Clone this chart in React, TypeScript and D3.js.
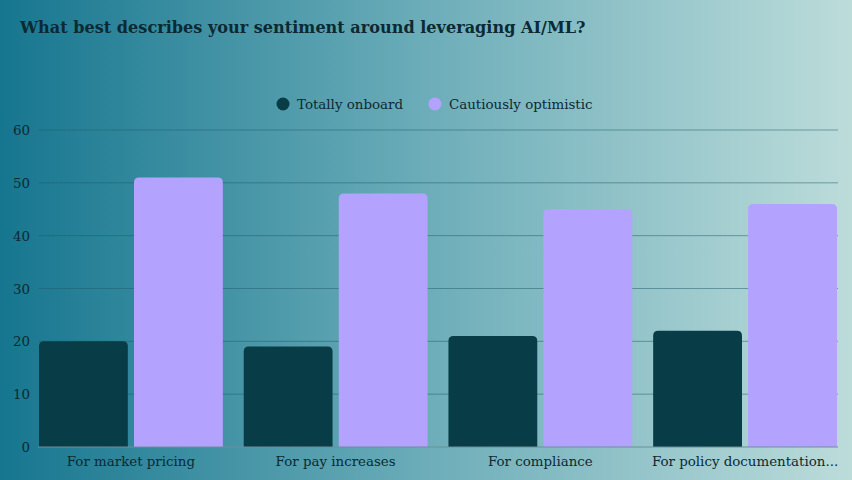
import * as d3 from 'd3'
import {useRef, useEffect} from 'react'

const categories: string[] = ['For market pricing', 'For pay increases', 'For compliance', 'For policy documentation...']
const seriesNames: string[] = ['Totally onboard', 'Cautiously optimistic']
const onboard: number[] = [20, 19, 21, 22]
const optimistic: number[] = [51, 48, 45, 46]
const yTicks: number[] = [0, 10, 20, 30, 40, 50, 60]
const colors: string[] = ['#083d47', '#b4a2ff']

const width = 852
const height = 480
const margin = {left: 39, right: 15, top: 130, bottom: 33}
const font = '"DejaVu Serif", serif'
const textColor = '#0b2a33'

// rect with rounded top corners only
const topRounded = (x: number, y: number, w: number, h: number, r: number): string => {
  const rr = Math.min(r, h, w / 2)
  return `M${x},${y + h}V${y + rr}Q${x},${y} ${x + rr},${y}H${x + w - rr}Q${x + w},${y} ${x + w},${y + rr}V${y + h}Z`
}

export default function App() {
  const svgRef = useRef(null)

  useEffect((): void => {
    const SVG = d3.select(svgRef.current)
    SVG.selectAll('*').remove()

    const defs = SVG.append('defs')
    const grad = defs.append('linearGradient')
      .attr('id', 'bg')
      .attr('x1', '0%').attr('y1', '0%')
      .attr('x2', '100%').attr('y2', '0%')
    grad.append('stop').attr('offset', '0%').attr('stop-color', '#16768f')
    grad.append('stop').attr('offset', '50%').attr('stop-color', '#6cadb9')
    grad.append('stop').attr('offset', '100%').attr('stop-color', '#bcdcda')

    SVG.append('rect')
      .attr('width', width).attr('height', height)
      .attr('fill', 'url(#bg)')

    SVG.append('text')
      .attr('x', 20).attr('y', 33)
      .attr('font-family', font)
      .attr('font-weight', 'bold')
      .attr('font-size', 16.1)
      .attr('fill', textColor)
      .text('What best describes your sentiment around leveraging AI/ML?')

    const xScale = d3.scaleBand<string>()
      .domain(categories)
      .range([margin.left, width - margin.right])
      .paddingInner(0.102)
      .paddingOuter(0)
    const subScale = d3.scaleBand<string>()
      .domain(seriesNames)
      .range([0, xScale.bandwidth()])
      .paddingInner(0.065)
    const yScale = d3.scaleLinear()
      .domain([0, 60])
      .range([height - margin.bottom, margin.top])

    // grid
    SVG.append('g')
      .selectAll('line')
      .data(yTicks.filter(t => t > 0))
      .enter()
      .append('line')
      .attr('x1', margin.left).attr('x2', width - margin.right + 1)
      .attr('y1', d => yScale(d)).attr('y2', d => yScale(d))
      .attr('stroke', '#1f5c6c')
      .attr('stroke-opacity', 0.5)
      .attr('stroke-width', 1)

    // y labels
    SVG.append('g')
      .selectAll('text')
      .data(yTicks)
      .enter()
      .append('text')
      .attr('x', 30)
      .attr('y', d => yScale(d) + 5)
      .attr('text-anchor', 'end')
      .attr('font-family', font)
      .attr('font-size', 13.4)
      .attr('fill', textColor)
      .text(d => d)

    const values = [onboard, optimistic]
    const groups = SVG.append('g')
      .selectAll('g')
      .data(categories)
      .enter()
      .append('g')
      .attr('transform', d => `translate(${xScale(d)},0)`)

    groups.selectAll('path')
      .data((_d, i) => seriesNames.map((s, j) => ({s, v: values[j][i], j})))
      .enter()
      .append('path')
      .attr('d', d => topRounded(subScale(d.s)!, yScale(d.v), subScale.bandwidth(), yScale(0) - yScale(d.v), 5))
      .attr('fill', d => colors[d.j])

    // baseline
    SVG.append('line')
      .attr('x1', margin.left - 1).attr('x2', width - margin.right + 1)
      .attr('y1', yScale(0)).attr('y2', yScale(0))
      .attr('stroke', '#6d8f97')
      .attr('stroke-width', 1.2)

    // x labels
    SVG.append('g')
      .selectAll('text')
      .data(categories)
      .enter()
      .append('text')
      .attr('x', d => xScale(d)! + xScale.bandwidth() / 2)
      .attr('y', 466)
      .attr('text-anchor', 'middle')
      .attr('font-family', font)
      .attr('font-size', 13.4)
      .attr('fill', textColor)
      .text(d => d)

    // legend
    const legendX = [283, 435]
    const legend = SVG.append('g')
      .selectAll('g')
      .data(seriesNames)
      .enter()
      .append('g')
      .attr('transform', (_d, i) => `translate(${legendX[i]},104)`)
    legend.append('circle')
      .attr('r', 6.5)
      .attr('fill', (_d, i) => colors[i])
    legend.append('text')
      .attr('x', 14).attr('y', 4.5)
      .attr('font-family', font)
      .attr('font-size', 13.4)
      .attr('fill', textColor)
      .text(d => d)
  }, [])

  return <svg ref={svgRef} width={width} height={height} style={{position: 'absolute', left: 0, top: 0}}></svg>
}
